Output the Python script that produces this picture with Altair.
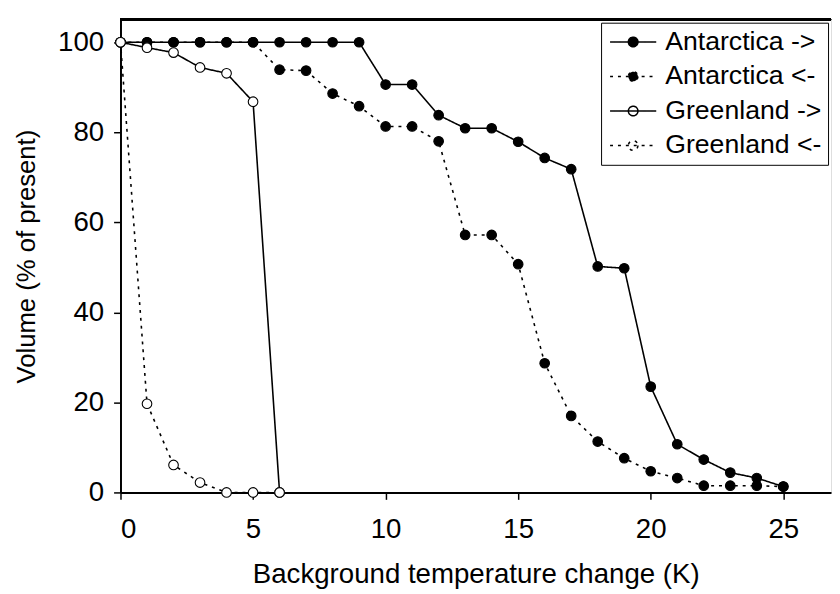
import altair as alt
import pandas as pd

# ---- data ----
series_names = ["Antarctica ->", "Antarctica <-", "Greenland ->", "Greenland <-"]

ant_temps = list(range(26))
ant_warm = [100, 100, 100, 100, 100, 100, 100, 100, 100, 100,
            90.6, 90.6, 83.8, 80.9, 80.9, 77.9, 74.3, 71.8, 50.2, 49.8,
            23.5, 10.7, 7.3, 4.4, 3.2, 1.3]
ant_cool = [100, 100, 100, 100, 100, 100, 93.9, 93.7, 88.6, 85.8,
            81.3, 81.3, 78.0, 57.2, 57.2, 50.7, 28.7, 17.0, 11.3, 7.6,
            4.7, 3.2, 1.5, 1.5, 1.5, 1.3]
gr_temps = [0, 1, 2, 3, 4, 5, 6]
gr_warm = [100, 98.8, 97.7, 94.4, 93.1, 86.8, 0]
gr_cool = [100, 19.7, 6.1, 2.2, 0, 0, 0]

x_ticks = [0, 5, 10, 15, 20, 25]
y_ticks = [0, 20, 40, 60, 80, 100]

rows = []
for name, xs, ys in [(series_names[0], ant_temps, ant_warm),
                     (series_names[1], ant_temps, ant_cool),
                     (series_names[2], gr_temps, gr_warm),
                     (series_names[3], gr_temps, gr_cool)]:
    for xv, yv in zip(xs, ys):
        rows.append({"series": name, "T": xv, "V": yv})
df = pd.DataFrame(rows)

FONT = "Liberation Sans"
W, H = 720, 479

legend_def = alt.Legend(title=None, orient="top-right", offset=3,
                        strokeColor="black", padding=6,
                        labelFont=FONT, labelFontSize=27, labelColor="black",
                        symbolType="M-4.8,0L4.8,0M1,0A1,1,0,1,1,-1,0A1,1,0,1,1,1,0Z",
                        symbolSize=529, symbolStrokeColor="black", symbolOpacity=1,
                        symbolStrokeWidth=1.5, symbolOffset=13,
                        labelOffset=19, rowPadding=7)

x_enc = alt.X("T:Q", scale=alt.Scale(domain=[0, 26.8], nice=False),
              axis=alt.Axis(values=x_ticks, title="Background temperature change (K)",
                            grid=False, tickSize=7, tickWidth=1.5, tickColor="black",
                            domainColor="black", domainWidth=2,
                            labelFont=FONT, labelFontSize=28, labelColor="black",
                            labelPadding=17, titleFont=FONT, titleFontSize=28,
                            titleFontWeight="normal", titleColor="black", titlePadding=17))
y_enc = alt.Y("V:Q", scale=alt.Scale(domain=[0, 105], nice=False),
              axis=alt.Axis(values=y_ticks, title="Volume (% of present)",
                            grid=False, tickSize=7, tickWidth=1.5, tickColor="black",
                            domainColor="black", domainWidth=2,
                            labelFont=FONT, labelFontSize=28, labelColor="black",
                            labelPadding=10, titleFont=FONT, titleFontSize=26,
                            titleFontWeight="normal", titleColor="black", titlePadding=18))

lines = alt.Chart(df).mark_line(color="black", strokeWidth=1.6).encode(
    x=x_enc, y=y_enc,
    detail="series:N",
    strokeDash=alt.StrokeDash("series:N", scale=alt.Scale(domain=series_names,
                              range=[[1, 0], [3, 5], [1, 0], [3, 5]]), legend=legend_def),
)

points = alt.Chart(df).mark_point(filled=True, stroke="black", strokeWidth=1.1, opacity=1).encode(
    x="T:Q", y="V:Q",
    fill=alt.Fill("series:N", scale=alt.Scale(domain=series_names,
                  range=["black", "black", "white", "white"]), legend=legend_def),
    size=alt.Size("series:N", scale=alt.Scale(domain=series_names, range=[95, 95, 70, 70]),
                  legend=None),
)

frame_top = alt.Chart(df).mark_rule(color="black", strokeWidth=2).encode(
    x=alt.value(0), x2=alt.value(W), y=alt.value(0)
)

chart = alt.layer(lines, points, frame_top).properties(
    width=W, height=H, padding={"left": 6, "top": 7, "right": 0, "bottom": 0}
).configure_view(stroke=None).configure(background="white")

chart.save("out.html", embed_options={"renderer": "svg", "actions": False})
